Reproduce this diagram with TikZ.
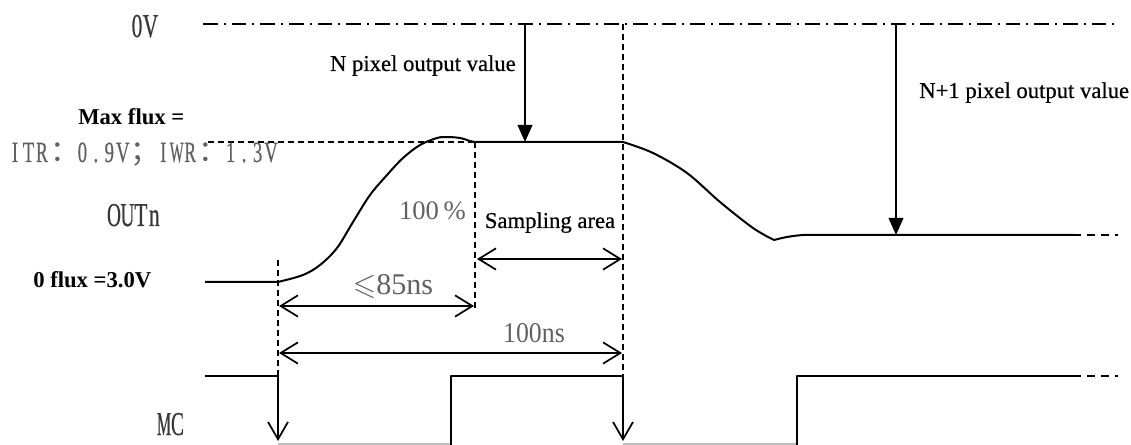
\documentclass[tikz,border=0pt]{standalone}
\usepackage{fontspec}
\usepackage{graphicx}
\usepackage{amssymb}
\setmainfont{Liberation Serif}
\newfontfamily\heavyserif[FakeBold=0.5]{Liberation Serif}
\newfontfamily\labelserif[FakeBold=0.7]{Liberation Serif}
\newfontfamily\cjk{Noto Sans CJK SC}
\usetikzlibrary{arrows.meta}

% fixed-pitch cells for the condensed signal labels
\newcommand\hw[2][0.64]{\makebox[10.1pt]{\scalebox{#1}[1]{#2}}}
\newcommand\fw[1]{\makebox[20.25pt][l]{\hspace{1pt}{\cjk #1}}}

\tikzset{
  wave/.style={line width=1.5pt, line join=round},
  lowlevel/.style={line width=0.8pt, black!25},
  guide/.style={line width=1.3pt, dash pattern=on 4.5pt off 3pt},
  tail/.style={line width=1.5pt, dash pattern=on 6pt off 4.5pt},
  zeroline/.style={line width=1.5pt, dash pattern=on 11pt off 4.5pt on 1.5pt off 4.5pt},
  probe/.style={line width=1.3pt, -{Triangle[length=12.75pt,width=11pt]}},
  span/.style={line width=1.3pt, {Straight Barb[length=13pt,width=16pt]}-{Straight Barb[length=13pt,width=16pt]}},
  strobe/.style={line width=1.3pt, -{Straight Barb[length=13pt,width=15pt]}},
  note/.style={inner sep=0pt, font=\fontsize{17}{20}\heavyserif},
  boldnote/.style={inner sep=0pt, font=\fontsize{17}{20}\selectfont\bfseries},
  sig/.style={inner sep=0pt, text=black!78, font=\fontsize{25}{28}\labelserif},
  meas/.style={inner sep=0pt, text=black!62},
}

\begin{document}
\begin{tikzpicture}[x=0.75pt, y=-0.75pt]
\useasboundingbox (0,0) rectangle (1131,445);

% ---- reference level 0V
\coordinate (z0) at (203,24);
\coordinate (z1) at (1116,24);
\draw[zeroline] (z0) -- (z1);

% ---- key instants
\coordinate (tA) at (278,282);   % start of integration
\coordinate (tB) at (475,142);   % 100% reached
\coordinate (tC) at (623,142);   % end of sampling

% guide lines
\coordinate (gAtop) at (278,260);
\coordinate (gAbot) at (278,376);
\coordinate (gBbot) at (475,310);
\coordinate (gCtop) at (623,24);
\coordinate (gCbot) at (623,376);
\coordinate (mf0) at (208,142);
\draw[guide] (mf0) -- (tB);
\draw[guide] (gAtop) -- (gAbot);
\draw[guide] (tB) -- (gBbot);
\draw[guide] (gCtop) -- (gCbot);

% ---- OUTn waveform
\coordinate (o0) at (205,282);
\coordinate (dip) at (774,240);
\coordinate (o2) at (1073,235);
\coordinate (o3) at (1118,235);
\draw[wave] (o0) -- (tA)
  plot[smooth, tension=0.55] coordinates {(278,282) (303,275) (320,265) (337,248) (353,222) (370,195) (387,175) (403,158) (420,145) (437,138) (447,137) (460,138) (470,141) (475,142)}
  -- (tC)
  plot[smooth, tension=0.55] coordinates {(623,142) (653,153) (687,173) (720,202) (753,228) (774,240)}
  plot[smooth, tension=0.6] coordinates {(774,240) (787,237) (803,235) (820,235)}
  -- (o2);
\draw[tail] (o2) -- (o3);

% ---- pixel output value probes
\coordinate (nTop) at (525,24);
\coordinate (nBot) at (525,142);
\coordinate (mTop) at (896,24);
\coordinate (mBot) at (896,235);
\draw[probe] (nTop) -- (nBot);
\draw[probe] (mTop) -- (mBot);

% ---- timing spans
\coordinate (s85a) at (279,306);
\coordinate (s85b) at (474,306);
\coordinate (s100a) at (279,353);
\coordinate (s100b) at (622,353);
\coordinate (ssa) at (477,259);
\coordinate (ssb) at (622,259);
\draw[span] (s85a) -- (s85b);
\draw[span] (s100a) -- (s100b);
\draw[span] (ssa) -- (ssb);

% ---- MC clock
\coordinate (c0) at (205,376);
\coordinate (cA) at (278,441);
\coordinate (r1lo) at (451,445);
\coordinate (r1hi) at (451,376);
\coordinate (cC) at (623,441);
\coordinate (r2lo) at (797,445);
\coordinate (r2hi) at (797,376);
\coordinate (c1) at (1073,376);
\coordinate (c2) at (1118,376);
\coordinate (lo0) at (278,444);
\coordinate (lo1) at (451,444);
\coordinate (lo2) at (623,444);
\coordinate (lo3) at (797,444);
\draw[lowlevel] (lo0) -- (lo1);
\draw[lowlevel] (lo2) -- (lo3);
\draw[wave] (c0) -- (gAbot);
\draw[wave] (r1lo) -- (r1hi) -- (gCbot);
\draw[wave] (r2lo) -- (r2hi) -- (c1);
\draw[tail] (c1) -- (c2);
\draw[strobe] (gAbot) -- (cA);
\draw[strobe] (gCbot) -- (cC);

% ---- labels
\node[sig, anchor=base west] (l0v) at (130,37) {\hw{0}\hw{V}};
\node[sig, anchor=base west] (lout) at (107,226) {\hw[0.58]{O}\hw[0.58]{U}\hw{T}\hw{n}};
\node[sig, anchor=base west] (lmc) at (157,435) {\hw[0.48]{M}\hw[0.58]{C}};
\node[meas, anchor=base west, font=\fontsize{22}{24}\labelserif] (litr) at (8,162)
  {\hw{I}\hw{T}\hw[0.6]{R}\fw{：}\hw{0}\hw{.}\hw{9}\hw{V}\fw{；}\hw{I}\hw[0.5]{W}\hw[0.6]{R}\fw{：}\hw{1}\hw{.}\hw{3}\hw{V}};
\node[boldnote, anchor=base west] (lmax) at (78,125) {Max flux =};
\node[boldnote, anchor=base west] (lzero) at (33,287) {0 flux =3.0V};
\node[note, anchor=base east] (ln) at (516,71) {N pixel output value};
\node[note, anchor=base west] (ln1) at (919,98) {N+1 pixel output value};
\node[note, anchor=base] (lsamp) at (550,228) {Sampling area};
\node[meas, anchor=base east] (lpct) at (466,220)
  {\fontsize{20}{24}\selectfont 100\,\%};
\node[meas, anchor=base] (l85) at (393,295)
  {\fontsize{22.6}{26}\selectfont $\leqslant$85ns};
\node[meas, anchor=base] (l100) at (534,342)
  {\scalebox{0.9}[1]{\fontsize{21.5}{26}\selectfont 100ns}};
\end{tikzpicture}
\end{document}
